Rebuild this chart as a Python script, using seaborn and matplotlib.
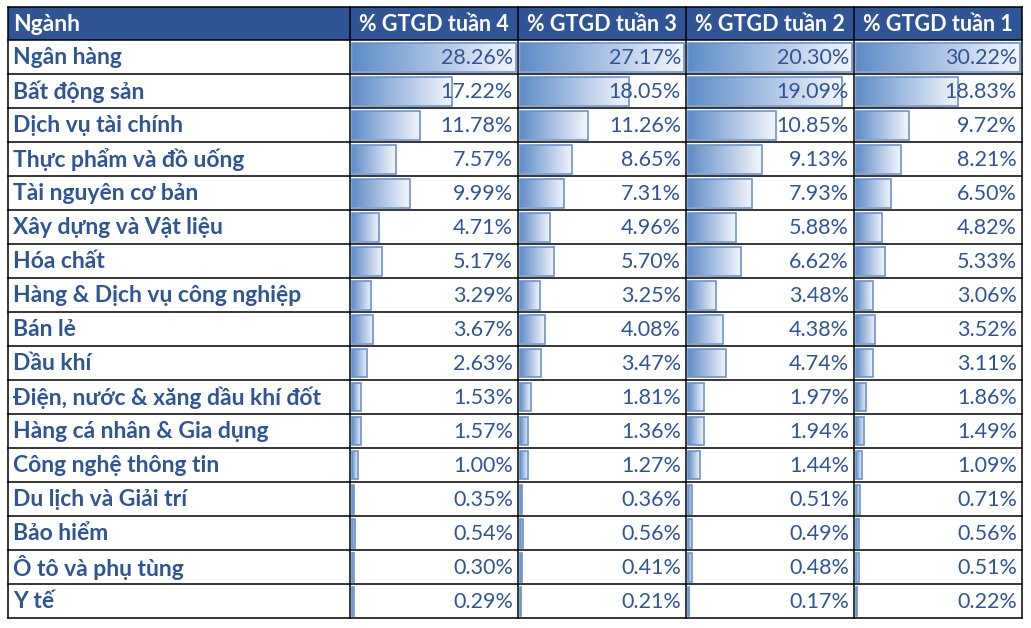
import numpy as np
import pandas as pd
import matplotlib
matplotlib.use("Agg")
import matplotlib.pyplot as plt
import seaborn as sns
from matplotlib.patches import Rectangle
from matplotlib.colors import LinearSegmentedColormap

# ---------------- data ----------------
header_first = "Ngành"
columns = ["% GTGD tuần 4", "% GTGD tuần 3", "% GTGD tuần 2", "% GTGD tuần 1"]
categories = ["Ngân hàng", "Bất động sản", "Dịch vụ tài chính", "Thực phẩm và đồ uống",
              "Tài nguyên cơ bản", "Xây dựng và Vật liệu", "Hóa chất",
              "Hàng & Dịch vụ công nghiệp", "Bán lẻ", "Dầu khí",
              "Điện, nước & xăng dầu khí đốt", "Hàng cá nhân & Gia dụng",
              "Công nghệ thông tin", "Du lịch và Giải trí", "Bảo hiểm",
              "Ô tô và phụ tùng", "Y tế"]
week4 = [28.26, 17.22, 11.78, 7.57, 9.99, 4.71, 5.17, 3.29, 3.67, 2.63, 1.53, 1.57, 1.00, 0.35, 0.54, 0.30, 0.29]
week3 = [27.17, 18.05, 11.26, 8.65, 7.31, 4.96, 5.70, 3.25, 4.08, 3.47, 1.81, 1.36, 1.27, 0.36, 0.56, 0.41, 0.21]
week2 = [20.30, 19.09, 10.85, 9.13, 7.93, 5.88, 6.62, 3.48, 4.38, 4.74, 1.97, 1.94, 1.44, 0.51, 0.49, 0.48, 0.17]
week1 = [30.22, 18.83, 9.72, 8.21, 6.50, 4.82, 5.33, 3.06, 3.52, 3.11, 1.86, 1.49, 1.09, 0.71, 0.56, 0.51, 0.22]
series = [week4, week3, week2, week1]

# ---------------- style ----------------
sns.set_theme(style="white")
plt.rcParams['font.family'] = ['Lato', 'DejaVu Sans']

W, H = 1031, 628
TEXT_C = "#2F5597"
HEAD_C = "#2F5597"
BAR_EDGE = "#6A94CC"
grad_cmap = LinearSegmentedColormap.from_list("g", ["#5E8CC8", "#F4F7FC"])
FS = 15.5
FS_CAT = 16.5

left, col0_right = 8, 350
col_w = 168
top, head_h, row_h = 7, 33, 34
n = len(categories)
data_top = top + head_h
bottom = data_top + n * row_h
right = col0_right + col_w * len(columns)

fig = plt.figure(figsize=(W / 100, H / 100), dpi=100)

def fx(px):
    return px / W

def fy(py):
    return 1 - py / H

# overlay axes in pixel coordinates for table frame / header
ov = fig.add_axes([0, 0, 1, 1], zorder=5)
ov.set_xlim(0, W)
ov.set_ylim(H, 0)
ov.axis("off")
ov.patch.set_alpha(0)

# value columns with seaborn bars
for ci, (name, vals) in enumerate(zip(columns, series)):
    x0 = col0_right + ci * col_w
    ax = fig.add_axes([fx(x0), fy(bottom), fx(col_w), (bottom - data_top) / H], zorder=1)
    df = pd.DataFrame({"cat": categories, "val": vals})
    sns.barplot(data=df, x="val", y="cat", orient="h", ax=ax, width=29 / 34,
                color=BAR_EDGE, saturation=1)
    vmax = max(vals)
    span = col_w - 4
    for p in ax.patches:
        bx0, by0 = p.get_x(), p.get_y()
        bw, bh = p.get_width(), p.get_height()
        if bw <= 0:
            continue
        grad = np.linspace(0, 1, 256).reshape(1, -1)
        im = ax.imshow(grad, cmap=grad_cmap, aspect="auto",
                       extent=(bx0, bx0 + bw, by0 + bh, by0), zorder=1,
                       interpolation="bilinear")
        im.set_clip_path(p)
        p.set_facecolor("none")
        p.set_edgecolor(BAR_EDGE)
        p.set_linewidth(1.2)
        p.set_zorder(2)
    ax.set_xlim(-2 / span * vmax, (col_w - 2) / span * vmax)
    ax.set_ylim(n - 0.5, -0.5)
    ax.axis("off")
    for ri, v in enumerate(vals):
        ov.text(x0 + col_w - 5, data_top + ri * row_h + row_h / 2 + 1, f"{v:.2f}%",
                ha="right", va="center", fontsize=FS, color=TEXT_C)
    # header
    ov.text(x0 + col_w / 2, top + head_h / 2 + 1, name, ha="center", va="center",
            fontsize=FS, color="white", fontweight="bold")

# header background
ov.add_patch(Rectangle((left, top), right - left, head_h, facecolor=HEAD_C,
                       edgecolor="none", zorder=0))
ov.text(left + 5, top + head_h / 2 + 1, header_first, ha="left", va="center",
        fontsize=FS_CAT, color="white", fontweight="bold")

# category labels
for ri, c in enumerate(categories):
    ov.text(left + 5, data_top + ri * row_h + row_h / 2 + 1, c, ha="left", va="center",
            fontsize=FS_CAT, color=TEXT_C, fontweight="bold")

# grid lines
lw = 1.1
for r in range(n + 1):
    y = data_top + r * row_h
    ov.plot([left, right], [y, y], color="black", lw=lw, solid_capstyle="projecting")
ov.plot([left, right], [top, top], color="black", lw=lw, solid_capstyle="projecting")
for xline in [left] + [col0_right + i * col_w for i in range(len(columns) + 1)]:
    ov.plot([xline, xline], [top, bottom], color="black", lw=lw, solid_capstyle="projecting")

fig.savefig("out.png", dpi=100, facecolor="white")
